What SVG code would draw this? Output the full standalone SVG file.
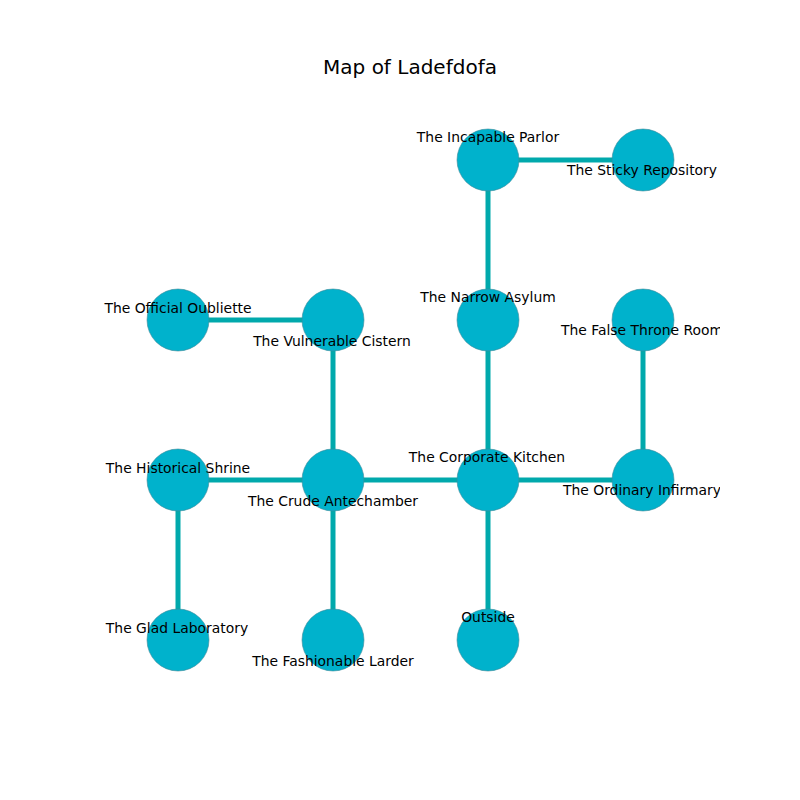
<svg xmlns="http://www.w3.org/2000/svg" width="800" height="800" viewBox="0 0 800 800">
<style>
.e{stroke:#00a9ac;stroke-width:5;fill:none}
.n{fill:#00b2cc;stroke:#3f8a99;stroke-width:0.6}
.l{font-family:"DejaVu Sans",sans-serif;font-size:13.9px;fill:#000;text-anchor:middle;dominant-baseline:central}
.t{font-family:"DejaVu Sans",sans-serif;font-size:20px;fill:#000;text-anchor:middle}
</style>
<defs><clipPath id="ax"><rect x="100" y="96" width="620" height="616"/></clipPath></defs>
<rect width="800" height="800" fill="#fff"/>
<text class="t" x="410" y="74">Map of Ladefdofa</text>
<g clip-path="url(#ax)">
<g id="connectors">
<line class="e" x1="488" y1="160" x2="643" y2="160"/>
<line class="e" x1="488" y1="160" x2="488" y2="320"/>
<line class="e" x1="178" y1="320" x2="333" y2="320"/>
<line class="e" x1="333" y1="320" x2="333" y2="480"/>
<line class="e" x1="488" y1="320" x2="488" y2="480"/>
<line class="e" x1="643" y1="320" x2="643" y2="480"/>
<line class="e" x1="178" y1="480" x2="333" y2="480"/>
<line class="e" x1="333" y1="480" x2="488" y2="480"/>
<line class="e" x1="488" y1="480" x2="643" y2="480"/>
<line class="e" x1="178" y1="480" x2="178" y2="640"/>
<line class="e" x1="333" y1="480" x2="333" y2="640"/>
<line class="e" x1="488" y1="480" x2="488" y2="640"/>
</g>
<g id="n-incapable-parlor"><circle class="n" cx="488" cy="160" r="31"/><text class="l" x="488" y="137">The Incapable Parlor</text></g>
<g id="n-sticky-repository"><circle class="n" cx="643" cy="160" r="31"/><text class="l" x="642" y="170">The Sticky Repository</text></g>
<g id="n-official-oubliette"><circle class="n" cx="178" cy="320" r="31"/><text class="l" x="178" y="308">The Official Oubliette</text></g>
<g id="n-vulnerable-cistern"><circle class="n" cx="333" cy="320" r="31"/><text class="l" x="332" y="341">The Vulnerable Cistern</text></g>
<g id="n-narrow-asylum"><circle class="n" cx="488" cy="320" r="31"/><text class="l" x="488" y="297">The Narrow Asylum</text></g>
<g id="n-false-throne-room"><circle class="n" cx="643" cy="320" r="31"/><text class="l" x="642" y="330">The False Throne Room</text></g>
<g id="n-historical-shrine"><circle class="n" cx="178" cy="480" r="31"/><text class="l" x="178" y="468">The Historical Shrine</text></g>
<g id="n-crude-antechamber"><circle class="n" cx="333" cy="480" r="31"/><text class="l" x="333" y="501">The Crude Antechamber</text></g>
<g id="n-corporate-kitchen"><circle class="n" cx="488" cy="480" r="31"/><text class="l" x="487" y="457">The Corporate Kitchen</text></g>
<g id="n-ordinary-infirmary"><circle class="n" cx="643" cy="480" r="31"/><text class="l" x="642" y="490">The Ordinary Infirmary</text></g>
<g id="n-glad-laboratory"><circle class="n" cx="178" cy="640" r="31"/><text class="l" x="177" y="628">The Glad Laboratory</text></g>
<g id="n-fashionable-larder"><circle class="n" cx="333" cy="640" r="31"/><text class="l" x="333" y="661">The Fashionable Larder</text></g>
<g id="n-outside"><circle class="n" cx="488" cy="640" r="31"/><text class="l" x="488" y="617">Outside</text></g>
</g>
</svg>
